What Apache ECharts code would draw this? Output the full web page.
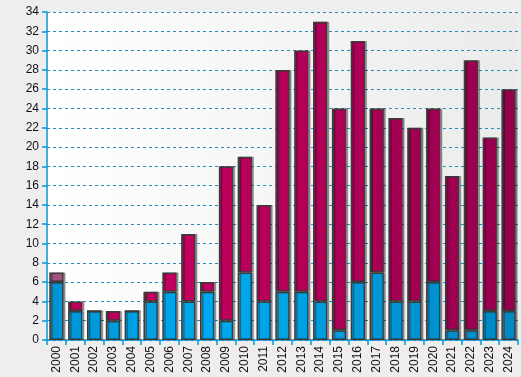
<!DOCTYPE html>
<html>
<head>
<meta charset="utf-8">
<script src="https://cdn.jsdelivr.net/npm/echarts@6/dist/echarts.min.js"></script>
<style>
  html, body { margin: 0; padding: 0; background: #eeeeee; }
  #main { width: 521px; height: 377px; }
</style>
</head>
<body>
<div id="main"></div>
<script>
// years on the x axis
var years = ['2000','2001','2002','2003','2004','2005','2006','2007','2008','2009',
  '2010','2011','2012','2013','2014','2015','2016','2017','2018','2019',
  '2020','2021','2022','2023','2024'];
// lower (blue) part of each bar
var blueVals = [6,3,3,2,3,4,5,4,5,2,7,4,5,5,4,1,6,7,4,4,6,1,1,3,3];
// upper (magenta) part of each bar
var redVals = [1,1,0,1,0,1,2,7,1,16,12,10,23,25,29,23,25,17,19,18,18,16,28,18,23];
var yTicks = [0, 34, 2];

var chart = echarts.init(document.getElementById('main'));

var blueGrad = new echarts.graphic.LinearGradient(47, 0, 518, 0, [
  { offset: 0, color: '#0094d4' },
  { offset: 0.35, color: '#00aaee' },
  { offset: 1, color: '#0088c2' }
], true);
var redGrad = new echarts.graphic.LinearGradient(47, 0, 518, 0, [
  { offset: 0, color: '#b8005a' },
  { offset: 0.3, color: '#c2005e' },
  { offset: 1, color: '#93004c' }
], true);

var common = {
  borderColor: '#3c3c3c',
  borderWidth: 1.5,
  shadowColor: 'rgba(0,0,0,0.3)',
  shadowOffsetX: 2,
  shadowOffsetY: 0,
  shadowBlur: 0
};

var redData = redVals.map(function (v, i) {
  if (i === 0) return { value: v, itemStyle: { color: '#a2527a' } };
  return v;
});

chart.setOption({
  animation: false,
  backgroundColor: '#eeeeee',
  grid: {
    left: 47, right: 3, top: 12, bottom: 37,
    show: true,
    borderWidth: 0,
    backgroundColor: new echarts.graphic.LinearGradient(0, 0, 1, 0, [
      { offset: 0, color: '#ffffff' },
      { offset: 1, color: '#ebebeb' }
    ])
  },
  xAxis: {
    type: 'category',
    data: years,
    axisLine: { lineStyle: { color: '#0a95d8', width: 1.5 } },
    axisTick: { show: true, length: 5, lineStyle: { color: '#0a95d8', width: 1.5 } },
    axisLabel: {
      rotate: 90, color: '#111', fontFamily: 'Liberation Sans, Arial, sans-serif',
      fontSize: 12, margin: 6
    }
  },
  yAxis: {
    type: 'value',
    min: yTicks[0], max: yTicks[1], interval: yTicks[2],
    axisLine: { show: true, lineStyle: { color: '#0a95d8', width: 1.5 } },
    axisTick: { show: true, length: 5, lineStyle: { color: '#0a95d8', width: 1.5 } },
    axisLabel: {
      color: '#111', fontFamily: 'Liberation Sans, Arial, sans-serif',
      fontSize: 12, margin: 8
    },
    splitLine: { lineStyle: { color: '#0a95d8', type: [3, 3], width: 1 } }
  },
  series: [
    {
      type: 'bar', stack: 't', data: blueVals, barCategoryGap: '24%',
      itemStyle: Object.assign({ color: blueGrad }, common)
    },
    {
      type: 'bar', stack: 't', data: redData, barCategoryGap: '24%',
      itemStyle: Object.assign({ color: redGrad }, common)
    }
  ]
});
</script>
</body>
</html>
